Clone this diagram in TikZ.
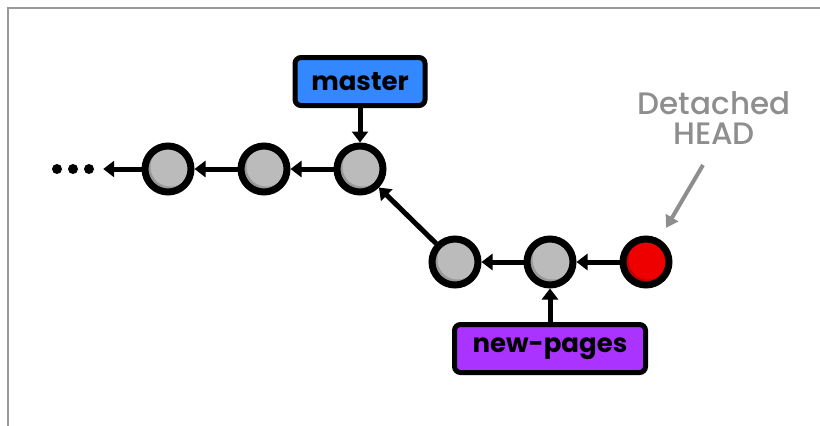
\documentclass[tikz,border=0pt]{standalone}
\usepackage{fontspec}
\setmainfont{Poppins}
\newfontfamily\notefont{Poppins Medium}
\usetikzlibrary{arrows.meta, positioning}
\definecolor{MasterB}{HTML}{3388FF}
\definecolor{PagesP} {HTML}{AA33FF}
\definecolor{HeadR}  {HTML}{EE0000}
\definecolor{CommitG}{HTML}{BBBBBB}
\definecolor{NoteG}  {HTML}{8E8E8E}
\definecolor{FrameG} {HTML}{999999}
\tikzset{
  commit/.style args={#1}{
    circle, draw=black, fill=#1!82!black,
    line width=7pt, minimum size=46pt, inner sep=0pt,
    path picture={\fill[#1] ([shift={(2.5pt,2.5pt)}]path picture bounding box.center) circle (20pt);},
  },
  ref/.style args={#1/#2}{
    rectangle, rounded corners=6pt,
    draw=black, fill=#1, text=black,
    font=\fontsize{26}{28}\selectfont\bfseries,
    line width=5pt, minimum width=#2, minimum height=48pt,
    inner sep=0pt,
  },
  dotn/.style={
    circle, fill=black, minimum size=10pt, inner sep=0pt,
  },
  arr/.style={
    -{Triangle[length=11pt,width=16pt]},
    line width=5pt, color=black,
  },
  garr/.style={
    -{Triangle[length=12pt,width=14pt]},
    line width=4pt, color=NoteG,
  },
  note/.style={
    font=\notefont\fontsize{31}{34}\selectfont, text=NoteG,
    align=center, inner sep=0pt,
  },
}
\begin{document}
\begin{tikzpicture}[x=1pt,y=-1pt]
    \useasboundingbox (0,0) rectangle (820,426);
    % frame
    \draw[FrameG, line width=2pt] (8,426) -- (8,8) -- (820,8);
    % commits
    \node[dotn] (d1) at ( 57,169) {};
    \node[dotn] (d2) at ( 73,169) {};
    \node[dotn] (d3) at ( 89,169) {};
    \node[commit=CommitG] (c1) at (168,169) {};
    \node[commit=CommitG] (c2) at (264,169) {};
    \node[commit=CommitG] (c3) at (360,169) {};
    \node[commit=CommitG] (c4) at (455,262) {};
    \node[commit=CommitG] (c5) at (550,262) {};
    \node[commit=HeadR]   (c6) at (646,262) {};
    \draw[arr, shorten >=9pt] (c1) -- (d3);
    \draw[arr] (c2) -- (c1);
    \draw[arr] (c3) -- (c2);
    \draw[arr] (c4) -- (c3);
    \draw[arr] (c5) -- (c4);
    \draw[arr] (c6) -- (c5);
    % branches
    \node[ref=MasterB/130pt] (master)   at (360, 81.5) {master};
    \node[ref=PagesP/191pt]  (newpages) at (550,348.5) {new-pages};
    \draw[arr] (master) -- (c3);
    \draw[arr] (newpages) -- (c5);
    % detached head
    \node[note] (head) at (714,118) {Detached\\[-4pt]HEAD};
    \coordinate (hs) at (703,165);
    \draw[garr, shorten >=13pt] (hs) -- (c6);
  \end{tikzpicture}
\end{document}
